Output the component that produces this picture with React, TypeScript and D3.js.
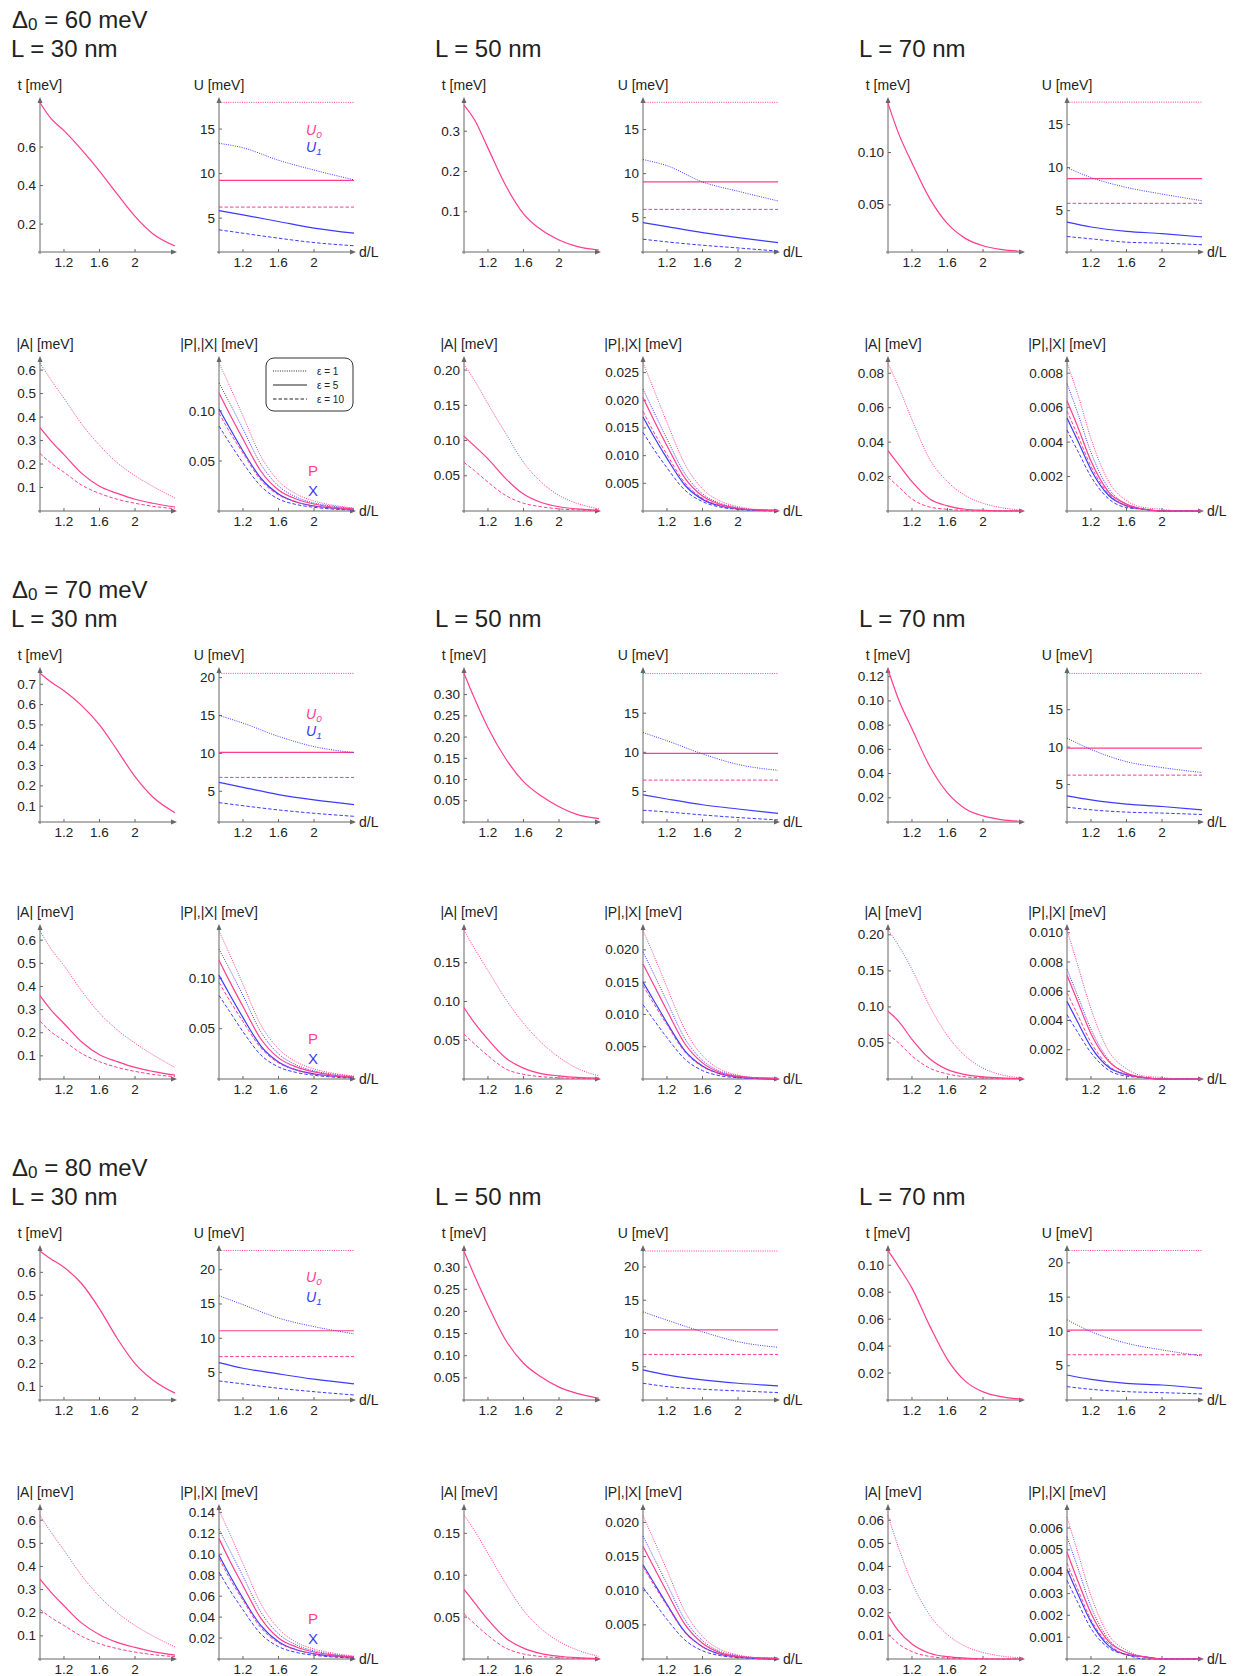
import * as d3 from "d3";

const PINK = "#ff3d8e";
const BLUE = "#3b3bff";
const AXIS = "#666";
const INK = "#222";
const FONT = "'Liberation Sans', Arial, Helvetica, sans-serif";

// d/L sample grids
const XS = [0.93, 1.05, 1.2, 1.4, 1.6, 1.8, 2.0, 2.2, 2.45];
const XU = [0.93, 1.2, 1.6, 2.0, 2.45];
const X_DOMAIN = [0.93, 2.45];
const X_TICKS = [1.2, 1.6, 2];
const DELTAS = [60, 70, 80];
const LENGTHS = [30, 50, 70];
const EPS_LABELS = ["ε = 1", "ε = 5", "ε = 10"];

// ---- Δ0 = 60 meV ----
const T_60_30 = [0.83, 0.75, 0.685, 0.585, 0.475, 0.355, 0.24, 0.15, 0.086];
const U0_60_30 = [18.0, 9.25, 6.24];
const U1_60_30 = [[13.4, 12.9, 11.5, 10.4, 9.3], [5.85, 5.37, 4.62, 3.88, 3.31], [3.69, 3.31, 2.75, 2.26, 1.9]];
const A_60_30 = [[0.63, 0.56, 0.48, 0.37, 0.28, 0.205, 0.15, 0.105, 0.055], [0.355, 0.3, 0.24, 0.16, 0.105, 0.075, 0.05, 0.033, 0.017], [0.245, 0.205, 0.165, 0.11, 0.075, 0.05, 0.033, 0.02, 0.01]];
const P_60_30 = [[0.148, 0.125, 0.095, 0.055, 0.03, 0.017, 0.01, 0.006, 0.003], [0.118, 0.097, 0.072, 0.04, 0.021, 0.012, 0.007, 0.004, 0.002], [0.098, 0.079, 0.058, 0.031, 0.016, 0.009, 0.005, 0.003, 0.0015]];
const X_60_30 = [[0.128, 0.108, 0.082, 0.047, 0.025, 0.014, 0.008, 0.005, 0.0025], [0.102, 0.083, 0.06, 0.033, 0.017, 0.009, 0.005, 0.003, 0.0015], [0.085, 0.068, 0.048, 0.025, 0.012, 0.0065, 0.0037, 0.002, 0.001]];

const T_60_50 = [0.365, 0.328, 0.258, 0.165, 0.095, 0.055, 0.03, 0.014, 0.005];
const U0_60_50 = [18.1, 9.06, 5.94];
const U1_60_50 = [[11.6, 10.9, 9.06, 8.0, 6.9], [4.43, 3.98, 3.3, 2.73, 2.17], [2.55, 2.25, 1.87, 1.56, 1.2]];
const A_60_50 = [[0.208, 0.185, 0.152, 0.11, 0.069, 0.041, 0.022, 0.011, 0.003], [0.106, 0.092, 0.074, 0.046, 0.024, 0.012, 0.006, 0.003, 0.001], [0.069, 0.057, 0.041, 0.022, 0.011, 0.006, 0.003, 0.0015, 0.0005]];
const P_60_50 = [[0.0268, 0.022, 0.016, 0.0085, 0.004, 0.0018, 0.0008, 0.0003, 0.0001], [0.0205, 0.0165, 0.0118, 0.006, 0.0027, 0.0012, 0.0005, 0.0002, 0.0001], [0.018, 0.0143, 0.0102, 0.0051, 0.0023, 0.001, 0.0004, 0.0002, 0.0001]];
const X_60_50 = [[0.022, 0.018, 0.013, 0.0068, 0.0031, 0.0014, 0.0006, 0.0002, 0.0001], [0.017, 0.0135, 0.0095, 0.0047, 0.0021, 0.0009, 0.0004, 0.0002, 0.0001], [0.0142, 0.0112, 0.0078, 0.0038, 0.0017, 0.0007, 0.0003, 0.0001, 0]];

const T_60_70 = [0.147, 0.118, 0.09, 0.056, 0.032, 0.018, 0.011, 0.0075, 0.0055];
const U0_60_70 = [17.6, 8.73, 5.85];
const U1_60_70 = [[10.0, 8.85, 7.7, 6.93, 6.15], [3.66, 3.1, 2.6, 2.33, 1.95], [2.0, 1.73, 1.34, 1.23, 1.04]];
const A_60_70 = [[0.0857, 0.072, 0.053, 0.03, 0.017, 0.009, 0.0045, 0.002, 0.0005], [0.035, 0.027, 0.017, 0.007, 0.003, 0.001, 0.0004, 0.0001, 0], [0.0197, 0.014, 0.007, 0.0023, 0.001, 0.0003, 0.0001, 0, 0]];
const P_60_70 = [[0.0086, 0.0068, 0.0042, 0.0017, 0.0006, 0.0002, 0.0001, 0, 0], [0.0064, 0.0049, 0.0029, 0.0011, 0.0004, 0.0001, 0, 0, 0], [0.0058, 0.0044, 0.0026, 0.001, 0.0003, 0.0001, 0, 0, 0]];
const X_60_70 = [[0.0074, 0.0057, 0.0034, 0.0013, 0.0004, 0.0001, 0, 0, 0], [0.0054, 0.0041, 0.0024, 0.0009, 0.0003, 0.0001, 0, 0, 0], [0.0047, 0.0035, 0.002, 0.0007, 0.0002, 0.0001, 0, 0, 0]];

// ---- Δ0 = 70 meV ----
const T_70_30 = [0.754, 0.712, 0.668, 0.595, 0.5, 0.375, 0.245, 0.145, 0.068];
const U0_70_30 = [20.56, 10.13, 6.83];
const U1_70_30 = [[15.0, 14.0, 12.24, 10.9, 10.1], [6.17, 5.52, 4.57, 3.87, 3.25], [3.5, 3.1, 2.54, 2.1, 1.7]];
const A_70_30 = [[0.64, 0.565, 0.49, 0.38, 0.285, 0.212, 0.155, 0.105, 0.05], [0.36, 0.3, 0.24, 0.16, 0.105, 0.075, 0.05, 0.033, 0.017], [0.25, 0.205, 0.165, 0.11, 0.075, 0.05, 0.033, 0.02, 0.01]];
const P_70_30 = [[0.147, 0.124, 0.094, 0.054, 0.03, 0.017, 0.01, 0.006, 0.003], [0.118, 0.097, 0.072, 0.04, 0.021, 0.012, 0.007, 0.004, 0.002], [0.096, 0.078, 0.057, 0.031, 0.016, 0.009, 0.005, 0.003, 0.0015]];
const X_70_30 = [[0.129, 0.109, 0.083, 0.047, 0.025, 0.014, 0.008, 0.005, 0.0025], [0.103, 0.084, 0.061, 0.033, 0.017, 0.009, 0.005, 0.003, 0.0015], [0.083, 0.067, 0.047, 0.024, 0.012, 0.0065, 0.0037, 0.002, 0.001]];

const T_70_50 = [0.35, 0.29, 0.222, 0.149, 0.095, 0.061, 0.036, 0.018, 0.008];
const U0_70_50 = [20.06, 9.87, 6.45];
const U1_70_50 = [[12.53, 11.48, 9.8, 8.45, 7.7], [4.58, 4.04, 3.3, 2.76, 2.2], [2.6, 2.39, 2.0, 1.67, 1.37]];
const A_70_50 = [[0.192, 0.168, 0.14, 0.103, 0.072, 0.047, 0.028, 0.014, 0.004], [0.092, 0.072, 0.051, 0.027, 0.014, 0.007, 0.004, 0.002, 0.001], [0.058, 0.045, 0.03, 0.013, 0.006, 0.003, 0.0015, 0.0007, 0.0003]];
const P_70_50 = [[0.023, 0.0192, 0.0142, 0.0077, 0.0036, 0.0015, 0.0006, 0.0002, 0.0001], [0.0178, 0.0146, 0.0106, 0.0055, 0.0025, 0.001, 0.0004, 0.0002, 0.0001], [0.0145, 0.0117, 0.0084, 0.0042, 0.0019, 0.0008, 0.0003, 0.0001, 0]];
const X_70_50 = [[0.0197, 0.0163, 0.012, 0.0063, 0.0029, 0.0012, 0.0005, 0.0002, 0.0001], [0.015, 0.0122, 0.0087, 0.0044, 0.002, 0.0008, 0.0003, 0.0001, 0], [0.0115, 0.0092, 0.0064, 0.0031, 0.0013, 0.0005, 0.0002, 0.0001, 0]];

const T_70_70 = [0.126, 0.101, 0.077, 0.046, 0.024, 0.011, 0.005, 0.002, 0.0005];
const U0_70_70 = [19.84, 9.87, 6.26];
const U1_70_70 = [[11.2, 9.7, 8.06, 7.27, 6.6], [3.5, 2.96, 2.4, 2.07, 1.63], [1.98, 1.63, 1.32, 1.19, 1.0]];
const A_70_70 = [[0.207, 0.185, 0.152, 0.101, 0.06, 0.032, 0.015, 0.006, 0.0015], [0.094, 0.08, 0.055, 0.028, 0.013, 0.006, 0.003, 0.0015, 0.0005], [0.062, 0.05, 0.032, 0.015, 0.007, 0.003, 0.0015, 0.0007, 0.0003]];
const P_70_70 = [[0.0102, 0.0078, 0.0048, 0.0019, 0.0007, 0.0002, 0.0001, 0, 0], [0.0071, 0.0053, 0.0031, 0.0012, 0.0004, 0.0001, 0, 0, 0], [0.0059, 0.0044, 0.0025, 0.0009, 0.0003, 0.0001, 0, 0, 0]];
const X_70_70 = [[0.0075, 0.0057, 0.0034, 0.0013, 0.0004, 0.0001, 0, 0, 0], [0.0053, 0.0039, 0.0022, 0.0008, 0.0003, 0.0001, 0, 0, 0], [0.0044, 0.0032, 0.0018, 0.0006, 0.0002, 0.0001, 0, 0, 0]];

// ---- Δ0 = 80 meV ----
const T_80_30 = [0.693, 0.66, 0.622, 0.55, 0.44, 0.31, 0.2, 0.128, 0.07];
const U0_80_30 = [22.8, 11.1, 7.33];
const U1_80_30 = [[16.2, 14.9, 12.95, 11.7, 10.65], [6.45, 5.63, 4.8, 4.03, 3.34], [3.78, 3.34, 2.71, 2.21, 1.73]];
const A_80_30 = [[0.62, 0.55, 0.47, 0.36, 0.27, 0.2, 0.145, 0.1, 0.052], [0.345, 0.29, 0.23, 0.155, 0.105, 0.072, 0.05, 0.032, 0.017], [0.215, 0.18, 0.145, 0.098, 0.066, 0.045, 0.03, 0.019, 0.01]];
const P_80_30 = [[0.142, 0.12, 0.091, 0.053, 0.029, 0.016, 0.0095, 0.0058, 0.0028], [0.115, 0.094, 0.07, 0.039, 0.02, 0.0115, 0.0067, 0.004, 0.002], [0.096, 0.077, 0.056, 0.03, 0.0155, 0.0087, 0.0049, 0.0029, 0.0015]];
const X_80_30 = [[0.124, 0.104, 0.079, 0.045, 0.024, 0.0135, 0.0078, 0.0047, 0.0024], [0.099, 0.08, 0.058, 0.032, 0.0165, 0.0088, 0.0049, 0.0029, 0.0015], [0.083, 0.066, 0.047, 0.024, 0.0118, 0.0063, 0.0036, 0.002, 0.001]];

const T_80_50 = [0.336, 0.28, 0.214, 0.135, 0.083, 0.052, 0.029, 0.015, 0.004];
const U0_80_50 = [22.4, 10.55, 6.85];
const U1_80_50 = [[13.25, 12.0, 10.25, 8.76, 7.92], [4.52, 3.77, 3.02, 2.52, 2.12], [2.52, 2.02, 1.62, 1.37, 1.12]];
const A_80_50 = [[0.172, 0.153, 0.126, 0.09, 0.058, 0.036, 0.021, 0.011, 0.003], [0.083, 0.067, 0.047, 0.025, 0.013, 0.0065, 0.0033, 0.0016, 0.0005], [0.054, 0.042, 0.028, 0.013, 0.006, 0.003, 0.0015, 0.0007, 0.0003]];
const P_80_50 = [[0.021, 0.0175, 0.013, 0.007, 0.0033, 0.0014, 0.0006, 0.0002, 0.0001], [0.0165, 0.0135, 0.0098, 0.0051, 0.0023, 0.0009, 0.0004, 0.0002, 0.0001], [0.0135, 0.0109, 0.0078, 0.0039, 0.0018, 0.0007, 0.0003, 0.0001, 0]];
const X_80_50 = [[0.018, 0.0149, 0.011, 0.0058, 0.0027, 0.0011, 0.0005, 0.0002, 0.0001], [0.0138, 0.0112, 0.008, 0.004, 0.0018, 0.0007, 0.0003, 0.0001, 0], [0.0105, 0.0084, 0.0058, 0.0028, 0.0012, 0.0005, 0.0002, 0.0001, 0]];

const T_80_70 = [0.111, 0.099, 0.083, 0.055, 0.03, 0.014, 0.006, 0.0025, 0.0005];
const U0_80_70 = [21.8, 10.2, 6.6];
const U1_80_70 = [[11.7, 9.97, 8.28, 7.3, 6.42], [3.65, 3.02, 2.43, 2.19, 1.7], [1.95, 1.56, 1.22, 1.07, 0.88]];
const A_80_70 = [[0.062, 0.048, 0.033, 0.019, 0.0105, 0.0055, 0.0028, 0.0013, 0.0004], [0.019, 0.012, 0.0065, 0.0025, 0.001, 0.0004, 0.0001, 0, 0], [0.011, 0.0065, 0.0032, 0.0011, 0.0004, 0.0001, 0, 0, 0]];
const P_80_70 = [[0.0065, 0.0049, 0.0029, 0.0011, 0.0004, 0.0001, 0, 0, 0], [0.0049, 0.0036, 0.0021, 0.0008, 0.0003, 0.0001, 0, 0, 0], [0.0044, 0.0032, 0.0018, 0.0007, 0.0002, 0.0001, 0, 0, 0]];
const X_80_70 = [[0.0056, 0.0042, 0.0024, 0.0009, 0.0003, 0.0001, 0, 0, 0], [0.0041, 0.003, 0.0017, 0.0006, 0.0002, 0.0001, 0, 0, 0], [0.0036, 0.0026, 0.0014, 0.0005, 0.0002, 0, 0, 0, 0]];

// axis setup per panel set: [group][column]
const SETS = [
  [
    { t: T_60_30, tDom: [0.055, 0.86], tTicks: [0.2, 0.4, 0.6], tDec: 1, u0: U0_60_30, u1: U1_60_30, uDom: [1.2, 18.6], uTicks: [5, 10, 15], a: A_60_30, aDom: [0, 0.66], aTicks: [0.1, 0.2, 0.3, 0.4, 0.5, 0.6], aDec: 1, p: P_60_30, x: X_60_30, pDom: [0, 0.155], pTicks: [0.05, 0.1], pDec: 2 },
    { t: T_60_50, tDom: [0, 0.385], tTicks: [0.1, 0.2, 0.3], tDec: 1, u0: U0_60_50, u1: U1_60_50, uDom: [1.1, 18.7], uTicks: [5, 10, 15], a: A_60_50, aDom: [0, 0.22], aTicks: [0.05, 0.1, 0.15, 0.2], aDec: 2, p: P_60_50, x: X_60_50, pDom: [0, 0.028], pTicks: [0.005, 0.01, 0.015, 0.02, 0.025], pDec: 3 },
    { t: T_60_70, tDom: [0.005, 0.153], tTicks: [0.05, 0.1], tDec: 2, u0: U0_60_70, u1: U1_60_70, uDom: [0.2, 18.2], uTicks: [5, 10, 15], a: A_60_70, aDom: [0, 0.09], aTicks: [0.02, 0.04, 0.06, 0.08], aDec: 2, p: P_60_70, x: X_60_70, pDom: [0, 0.009], pTicks: [0.002, 0.004, 0.006, 0.008], pDec: 3 },
  ],
  [
    { t: T_70_30, tDom: [0.022, 0.785], tTicks: [0.1, 0.2, 0.3, 0.4, 0.5, 0.6, 0.7], tDec: 1, u0: U0_70_30, u1: U1_70_30, uDom: [0.95, 21.4], uTicks: [5, 10, 15, 20], a: A_70_30, aDom: [0, 0.67], aTicks: [0.1, 0.2, 0.3, 0.4, 0.5, 0.6], aDec: 1, p: P_70_30, x: X_70_30, pDom: [0, 0.154], pTicks: [0.05, 0.1], pDec: 2 },
    { t: T_70_50, tDom: [0, 0.365], tTicks: [0.05, 0.1, 0.15, 0.2, 0.25, 0.3], tDec: 2, u0: U0_70_50, u1: U1_70_50, uDom: [1.1, 20.9], uTicks: [5, 10, 15], a: A_70_50, aDom: [0, 0.2], aTicks: [0.05, 0.1, 0.15], aDec: 2, p: P_70_50, x: X_70_50, pDom: [0, 0.024], pTicks: [0.005, 0.01, 0.015, 0.02], pDec: 3 },
    { t: T_70_70, tDom: [0, 0.128], tTicks: [0.02, 0.04, 0.06, 0.08, 0.1, 0.12], tDec: 2, u0: U0_70_70, u1: U1_70_70, uDom: [0, 20.7], uTicks: [5, 10, 15], a: A_70_70, aDom: [0, 0.215], aTicks: [0.05, 0.1, 0.15, 0.2], aDec: 2, p: P_70_70, x: X_70_70, pDom: [0, 0.0106], pTicks: [0.002, 0.004, 0.006, 0.008, 0.01], pDec: 3 },
  ],
  [
    { t: T_80_30, tDom: [0.04, 0.72], tTicks: [0.1, 0.2, 0.3, 0.4, 0.5, 0.6], tDec: 1, u0: U0_80_30, u1: U1_80_30, uDom: [1.0, 23.6], uTicks: [5, 10, 15, 20], a: A_80_30, aDom: [0, 0.67], aTicks: [0.1, 0.2, 0.3, 0.4, 0.5, 0.6], aDec: 1, p: P_80_30, x: X_80_30, pDom: [0, 0.148], pTicks: [0.02, 0.04, 0.06, 0.08, 0.1, 0.12, 0.14], pDec: 2 },
    { t: T_80_50, tDom: [0, 0.35], tTicks: [0.05, 0.1, 0.15, 0.2, 0.25, 0.3], tDec: 2, u0: U0_80_50, u1: U1_80_50, uDom: [0, 23.3], uTicks: [5, 10, 15, 20], a: A_80_50, aDom: [0, 0.185], aTicks: [0.05, 0.1, 0.15], aDec: 2, p: P_80_50, x: X_80_50, pDom: [0, 0.0227], pTicks: [0.005, 0.01, 0.015, 0.02], pDec: 3 },
    { t: T_80_70, tDom: [0, 0.115], tTicks: [0.02, 0.04, 0.06, 0.08, 0.1], tDec: 2, u0: U0_80_70, u1: U1_80_70, uDom: [0, 22.6], uTicks: [5, 10, 15, 20], a: A_80_70, aDom: [0, 0.067], aTicks: [0.01, 0.02, 0.03, 0.04, 0.05, 0.06], aDec: 2, p: P_80_70, x: X_80_70, pDom: [0, 0.0071], pTicks: [0.001, 0.002, 0.003, 0.004, 0.005, 0.006], pDec: 3 },
  ],
];

// layout
const TOP_AXIS = [252, 822, 1400];
const BOTTOM_AXIS = [511, 1079, 1659];
const COL_X = [40, 464, 888];
const RIGHT_DX = 179;
const U_LEGEND = [[-117, -100], [-103, -86], [-118, -98]];
const DASH = ["1 1.3", undefined, "3.5 2"];

type Curve = { xs: number[]; ys: number[]; color: string; style: number };

function Panel({ ax, ay, dom, ticks, dec, title, titleDx = 0, curves, dl = false, children }: any) {
  const x = d3.scaleLinear().domain(X_DOMAIN).range([ax, ax + 135]);
  const y = d3.scaleLinear().domain(dom).range([ay, ay - 155]);
  const line = d3
    .line<[number, number]>()
    .x((d) => x(d[0]))
    .y((d) => y(Math.max(d[1], dom[0])))
    .curve(d3.curveMonotoneX);
  const top = ay - 155;
  const right = ax + 137;
  return (
    <g>
      <text x={ax + titleDx} y={ay - 162} textAnchor="middle" fontSize={14} fill={INK}>
        {title}
      </text>
      <line x1={ax} y1={ay + 2} x2={ax} y2={top + 2} stroke={AXIS} />
      <line x1={ax - 2} y1={ay} x2={right - 2} y2={ay} stroke={AXIS} />
      <path d={`M${ax - 2.5},${top + 6}L${ax},${top}L${ax + 2.5},${top + 6}Z`} fill={AXIS} />
      <path d={`M${right - 6},${ay - 2.5}L${right},${ay}L${right - 6},${ay + 2.5}Z`} fill={AXIS} />
      {ticks.map((v: number) => (
        <g key={v}>
          <line x1={ax} x2={ax + 3} y1={y(v)} y2={y(v)} stroke={AXIS} />
          <text x={ax - 4} y={y(v) + 4.5} textAnchor="end" fontSize={13.5} fill={INK}>
            {v.toFixed(dec)}
          </text>
        </g>
      ))}
      {X_TICKS.map((v) => (
        <g key={v}>
          <line x1={x(v)} x2={x(v)} y1={ay} y2={ay - 3} stroke={AXIS} />
          <text x={x(v)} y={ay + 14.5} textAnchor="middle" fontSize={13.5} fill={INK}>
            {String(v)}
          </text>
        </g>
      ))}
      {curves.map((c: Curve, i: number) => (
        <path
          key={i}
          d={line(c.xs.map((xv, j) => [xv, c.ys[j]] as [number, number])) ?? ""}
          fill="none"
          stroke={c.color}
          strokeWidth={c.style === 1 ? 1.2 : 1}
          strokeDasharray={DASH[c.style]}
        />
      ))}
      {dl && (
        <text x={right + 3} y={ay + 5} fontSize={14} fill={INK}>
          d/L
        </text>
      )}
      {children}
    </g>
  );
}

function Sub({ x, y, base, sub, color, italic = false, size = 14 }: any) {
  return (
    <text x={x} y={y} fontSize={size} fill={color} fontStyle={italic ? "italic" : "normal"}>
      {base}
      <tspan fontSize={size * 0.7} dy={3}>
        {sub}
      </tspan>
    </text>
  );
}

export default function App() {
  return (
    <svg
      width={1238}
      height={1676}
      style={{ position: "absolute", left: 0, top: 0, background: "#fff" }}
      fontFamily={FONT}
    >
      {SETS.map((cols, gi) => {
        const ty = TOP_AXIS[gi];
        const by = BOTTOM_AXIS[gi];
        return (
          <g key={gi}>
            <text x={12} y={ty - 224} fontSize={24} fill={INK}>
              Δ
              <tspan fontSize={17} dy={2}>
                0
              </tspan>
              <tspan dy={-2}>{` = ${DELTAS[gi]} meV`}</tspan>
            </text>
            {cols.map((s, ci) => {
              const lx = COL_X[ci];
              const rx = lx + RIGHT_DX;
              const tCurves: Curve[] = [{ xs: XS, ys: s.t, color: PINK, style: 1 }];
              const uCurves: Curve[] = [
                ...s.u0.map((v, i) => ({ xs: X_DOMAIN, ys: [v, v], color: PINK, style: i })),
                ...s.u1.map((ys, i) => ({ xs: XU, ys, color: BLUE, style: i })),
              ];
              const aCurves: Curve[] = s.a.map((ys, i) => ({ xs: XS, ys, color: PINK, style: i }));
              const pCurves: Curve[] = [
                ...s.x.map((ys, i) => ({ xs: XS, ys, color: BLUE, style: i })),
                ...s.p.map((ys, i) => ({ xs: XS, ys, color: PINK, style: i })),
              ];
              return (
                <g key={ci}>
                  <text x={lx - 29} y={ty - 195} fontSize={24} fill={INK}>
                    {`L = ${LENGTHS[ci]} nm`}
                  </text>
                  <Panel ax={lx} ay={ty} dom={s.tDom} ticks={s.tTicks} dec={s.tDec} title="t [meV]" curves={tCurves} />
                  <Panel ax={rx} ay={ty} dom={s.uDom} ticks={s.uTicks} dec={0} title="U [meV]" curves={uCurves} dl>
                    {ci === 0 && (
                      <g>
                        <Sub x={rx + 87} y={ty + U_LEGEND[gi][0]} base="U" sub="0" color={PINK} italic />
                        <Sub x={rx + 87} y={ty + U_LEGEND[gi][1]} base="U" sub="1" color={BLUE} italic />
                      </g>
                    )}
                  </Panel>
                  <Panel ax={lx} ay={by} dom={s.aDom} ticks={s.aTicks} dec={s.aDec} title="|A| [meV]" titleDx={5} curves={aCurves} />
                  <Panel ax={rx} ay={by} dom={s.pDom} ticks={s.pTicks} dec={s.pDec} title="|P|,|X| [meV]" curves={pCurves} dl>
                    {ci === 0 && (
                      <g>
                        <text x={rx + 89} y={by - 35} fontSize={15} fill={PINK}>
                          P
                        </text>
                        <text x={rx + 89} y={by - 15} fontSize={15} fill={BLUE}>
                          X
                        </text>
                      </g>
                    )}
                    {ci === 0 && gi === 0 && (
                      <g>
                        <rect x={rx + 47} y={by - 153} width={87} height={53} rx={8} fill="#fff" stroke="#333" />
                        {EPS_LABELS.map((lab, i) => (
                          <g key={lab}>
                            <line
                              x1={rx + 54}
                              x2={rx + 88}
                              y1={by - 140 + i * 14}
                              y2={by - 140 + i * 14}
                              stroke="#222"
                              strokeWidth={i === 1 ? 1.2 : 1}
                              strokeDasharray={DASH[i]}
                            />
                            <text x={rx + 98} y={by - 136.5 + i * 14} fontSize={10} fill={INK}>
                              {lab}
                            </text>
                          </g>
                        ))}
                      </g>
                    )}
                  </Panel>
                </g>
              );
            })}
          </g>
        );
      })}
    </svg>
  );
}
